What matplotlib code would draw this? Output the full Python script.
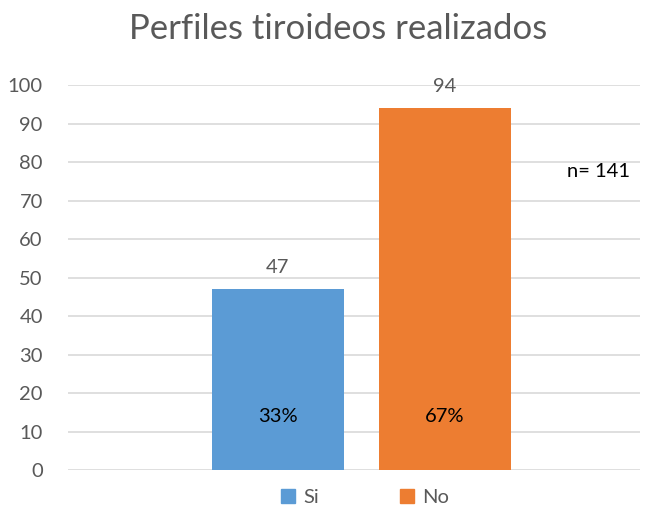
import matplotlib.pyplot as plt
from matplotlib.patches import Patch

# Data
categories = ["Si", "No"]
values = [47, 94]
percents = ["33%", "67%"]
colors = ["#5B9BD5", "#ED7D31"]
total_label = "n= 141"

plt.rcParams["font.family"] = ["Lato", "DejaVu Sans"]

fig = plt.figure(figsize=(6.46, 5.16), dpi=100)
ax = fig.add_axes([0.105, 0.089, 0.886, 0.746])

x = [0, 1]
bars = ax.bar(x, values, width=0.79, color=colors, zorder=3)

ax.set_xlim(-1.257, 2.168)
ax.set_ylim(0, 100)
ax.set_yticks(range(0, 101, 10))
ax.set_xticks([])
ax.grid(axis="y", color="#D9D9D9", linewidth=1.2, zorder=0)
for s in ax.spines.values():
    s.set_visible(False)
ax.tick_params(axis="y", length=0, labelsize=14.5, colors="#595959", pad=18)

# value labels above bars and percentages inside
for xi, v, p in zip(x, values, percents):
    ax.text(xi, v + 3.5, str(v), ha="center", va="bottom", fontsize=14.5, color="#595959")
    ax.text(xi, 14, p, ha="center", va="center", fontsize=14.5, color="black")

ax.text(1.92, 77.5, total_label, ha="center", va="center", fontsize=14.5, color="black")

fig.suptitle("Perfiles tiroideos realizados", x=0.523, y=0.975, fontsize=25, color="#595959")

handles = [Patch(color=c, label=l) for c, l in zip(colors, categories)]
fig.legend(handles=handles, loc="lower center", bbox_to_anchor=(0.565, -0.015), ncol=2,
           frameon=False, fontsize=14.5, handlelength=0.7, handleheight=0.7,
           columnspacing=4.0, handletextpad=0.4, labelcolor="#595959")

fig.savefig("out.png", dpi=100)
